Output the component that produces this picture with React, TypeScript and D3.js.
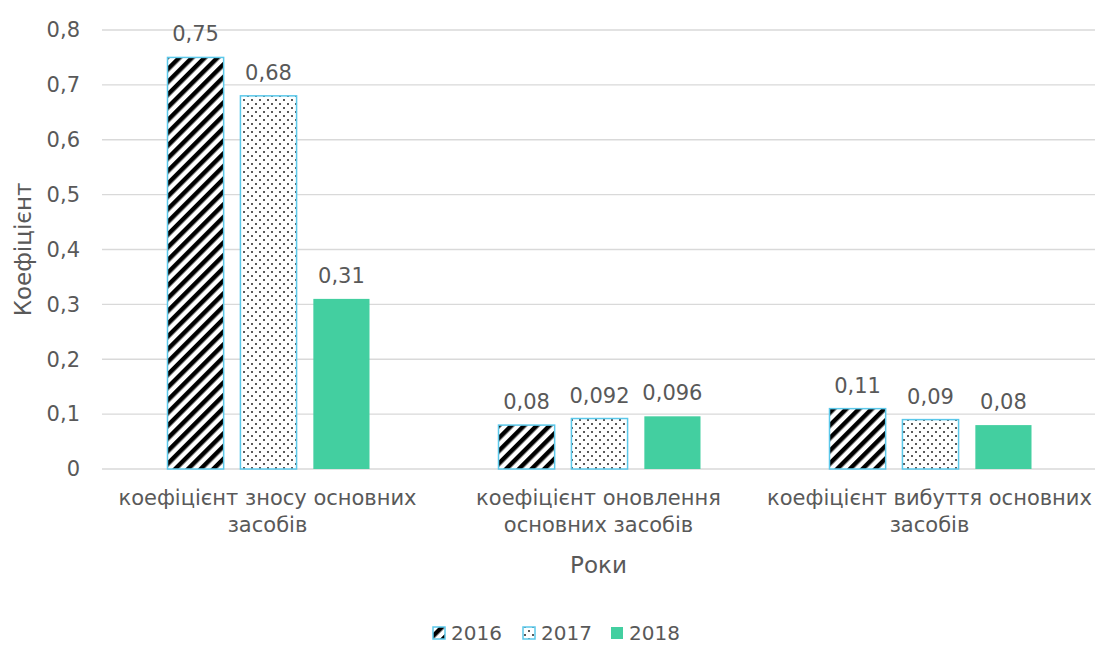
import React, { useEffect, useRef } from "react";
import * as d3 from "d3";

const categories = [
  ["коефіцієнт зносу основних", "засобів"],
  ["коефіцієнт оновлення", "основних засобів"],
  ["коефіцієнт вибуття основних", "засобів"],
];
const years = ["2016", "2017", "2018"];
const values2016 = [0.75, 0.08, 0.11];
const values2017 = [0.68, 0.092, 0.09];
const values2018 = [0.31, 0.096, 0.08];
const labels2016 = ["0,75", "0,08", "0,11"];
const labels2017 = ["0,68", "0,092", "0,09"];
const labels2018 = ["0,31", "0,096", "0,08"];
const yTicks = [0, 0.1, 0.2, 0.3, 0.4, 0.5, 0.6, 0.7, 0.8];

const FONT = "'DejaVu Sans', sans-serif";
const TEXT = "#595959";
const BORDER = "#5bc8ea";
const GREEN = "#43cfa0";

const App: React.FC = () => {
  const svgRef = useRef<SVGSVGElement | null>(null);

  useEffect(() => {
    if (!svgRef.current) return;
    const W = 1102;
    const H = 648;
    const M = { left: 102, right: 7, top: 30, bottom: 179 };
    const iW = W - M.left - M.right;
    const iH = H - M.top - M.bottom;

    const root = d3.select(svgRef.current);
    root.selectAll("*").remove();

    // patterns
    const defs = root.append("defs");
    const stripes = defs.append("pattern").attr("id", "stripes")
      .attr("patternUnits", "userSpaceOnUse").attr("width", 9).attr("height", 9)
      .attr("patternTransform", "rotate(45)");
    stripes.append("rect").attr("width", 9).attr("height", 9).attr("fill", "#fff");
    stripes.append("rect").attr("width", 4.5).attr("height", 9).attr("fill", "#000");

    const dots = defs.append("pattern").attr("id", "dots")
      .attr("patternUnits", "userSpaceOnUse").attr("width", 8).attr("height", 8);
    dots.append("rect").attr("width", 8).attr("height", 8).attr("fill", "#fff");
    dots.append("circle").attr("cx", 2).attr("cy", 2).attr("r", 1).attr("fill", "#222");
    dots.append("circle").attr("cx", 6).attr("cy", 6).attr("r", 1).attr("fill", "#222");

    const g = root.append("g").attr("transform", `translate(${M.left},${M.top})`);

    const y = d3.scaleLinear().domain([0, 0.8]).range([iH, 0]);
    const x0 = d3.scaleBand<number>().domain([0, 1, 2]).range([0, iW]);
    const x1 = d3.scaleBand<string>().domain(years)
      .range([x0.bandwidth() / 2 - 100, x0.bandwidth() / 2 + 102]).paddingInner(0.23);

    // grid
    g.append("g").selectAll("line").data(yTicks).enter().append("line")
      .attr("x1", 0).attr("x2", iW)
      .attr("y1", (d) => y(d)).attr("y2", (d) => y(d))
      .attr("stroke", "#d9d9d9").attr("stroke-width", 1.3);

    // y tick labels
    g.append("g").selectAll("text").data(yTicks).enter().append("text")
      .attr("x", -22).attr("y", (d) => y(d)).attr("dy", "0.35em")
      .attr("text-anchor", "end").attr("font-family", FONT).attr("font-size", 21)
      .attr("fill", TEXT).text((d) => (d === 0 ? "0" : d3.format(".1f")(d).replace(".", ",")));

    const series = [
      { year: "2016", values: values2016, labels: labels2016, fill: "url(#stripes)", stroke: BORDER },
      { year: "2017", values: values2017, labels: labels2017, fill: "url(#dots)", stroke: BORDER },
      { year: "2018", values: values2018, labels: labels2018, fill: GREEN, stroke: "none" },
    ];

    series.forEach((s) => {
      const sg = g.append("g");
      sg.selectAll("rect").data(s.values).enter().append("rect")
        .attr("x", (_, i) => (x0(i) ?? 0) + (x1(s.year) ?? 0))
        .attr("y", (d) => y(d))
        .attr("width", x1.bandwidth())
        .attr("height", (d) => iH - y(d))
        .attr("fill", s.fill)
        .attr("stroke", s.stroke).attr("stroke-width", 1.5);
      sg.selectAll("text").data(s.values).enter().append("text")
        .attr("x", (_, i) => (x0(i) ?? 0) + (x1(s.year) ?? 0) + x1.bandwidth() / 2)
        .attr("y", (d) => y(d) - 16)
        .attr("text-anchor", "middle").attr("font-family", FONT).attr("font-size", 21)
        .attr("fill", TEXT).text((_, i) => s.labels[i]);
    });

    // category labels
    categories.forEach((lines, i) => {
      const t = g.append("text").attr("text-anchor", "middle")
        .attr("font-family", FONT).attr("font-size", 21).attr("fill", TEXT);
      lines.forEach((ln, j) => {
        t.append("tspan").attr("x", (x0(i) ?? 0) + x0.bandwidth() / 2)
          .attr("y", iH + 36 + j * 27).text(ln);
      });
    });

    // axis titles
    root.append("text").attr("x", M.left + iW / 2).attr("y", 573)
      .attr("text-anchor", "middle").attr("font-family", FONT).attr("font-size", 23)
      .attr("fill", TEXT).text("Роки");
    root.append("text").attr("transform", `translate(31,${M.top + iH / 2}) rotate(-90)`)
      .attr("text-anchor", "middle").attr("font-family", FONT).attr("font-size", 23)
      .attr("fill", TEXT).text("Коефіцієнт");

    // legend
    const legendX = [433, 523, 611];
    series.forEach((s, i) => {
      const lg = root.append("g").attr("transform", `translate(${legendX[i]},633)`);
      lg.append("rect").attr("x", 0).attr("y", -6).attr("width", 12).attr("height", 12)
        .attr("fill", s.fill).attr("stroke", s.stroke).attr("stroke-width", 1.5);
      lg.append("text").attr("x", 18).attr("y", 0).attr("dy", "0.35em")
        .attr("font-family", FONT).attr("font-size", 20).attr("fill", TEXT).text(s.year);
    });
  }, []);

  return (
    <svg ref={svgRef} width={1102} height={648}
      style={{ position: "absolute", left: 0, top: 0, background: "#fff" }} />
  );
};

export default App;
